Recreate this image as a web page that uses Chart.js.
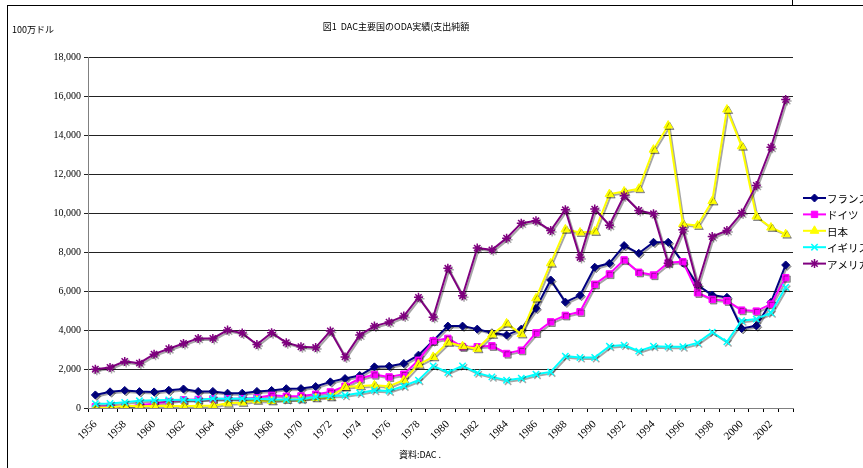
<!DOCTYPE html>
<html>
<head>
<meta charset="utf-8">
<script src="https://cdn.jsdelivr.net/npm/chart.js"></script>
<style>
  body { margin: 0; background: #fff; }
  #wrap { position: relative; width: 863px; height: 468px; }
</style>
</head>
<body>
<div id="wrap"><canvas id="odaChart" width="863" height="468"></canvas></div>
<script>
// years 1956 - 2003
const years = []
for (let y = 1956; y <= 2003; y++) years.push(String(y))

const france = [670, 830, 900, 840, 825, 910, 975, 850, 850, 760, 760, 850, 900, 990, 995, 1100,
    1340, 1510, 1665, 2110, 2145, 2280, 2710, 3445, 4200, 4200, 4045, 3855, 3740, 4045, 5110, 6565,
    5430, 5780, 7220, 7420, 8330, 7935, 8500, 8500, 7455, 6310, 5795, 5675, 4080, 4215, 5420, 7335]
const germany = [60, 90, 50, 150, 220, 330, 420, 440, 460, 480, 480, 520, 650, 600, 620, 705,
    825, 1115, 1510, 1715, 1595, 1735, 2450, 3445, 3570, 3140, 3140, 3190, 2795, 2965, 3855, 4420,
    4750, 4935, 6345, 6875, 7595, 6960, 6820, 7455, 7505, 5910, 5570, 5500, 5020, 4970, 5330, 6685]
const japan = [20, 20, 110, 90, 105, 110, 85, 115, 115, 240, 285, 390, 360, 440, 460, 515,
    565, 1080, 1130, 1165, 1115, 1425, 2230, 2620, 3360, 3170, 3035, 3770, 4340, 3790, 5625, 7420,
    9160, 9000, 9050, 10970, 11105, 11245, 13250, 14485, 9430, 9360, 10610, 15305, 13420, 9820, 9255, 8915]
const uk = [220, 230, 290, 370, 400, 410, 420, 415, 490, 480, 490, 480, 430, 430, 450, 560,
    610, 650, 770, 910, 875, 1130, 1425, 2160, 1820, 2160, 1800, 1595, 1425, 1530, 1735, 1850,
    2660, 2590, 2590, 3170, 3225, 2915, 3170, 3140, 3140, 3340, 3890, 3395, 4475, 4560, 4885, 6190]
const usa = [1990, 2080, 2390, 2300, 2760, 3040, 3310, 3570, 3570, 3995, 3840, 3260, 3860, 3350, 3140, 3100,
    3950, 2620, 3740, 4200, 4405, 4715, 5675, 4650, 7165, 5760, 8200, 8110, 8710, 9480, 9600, 9100,
    10165, 7720, 10200, 9375, 10885, 10130, 9960, 7420, 9135, 6310, 8790, 9100, 9995, 11415, 13370, 15820]

const yTicks = [0, 2000, 4000, 6000, 8000, 10000, 12000, 14000, 16000, 18000]

function series(label, data, color, style, radius, order) {
    return {
        label: label,
        data: data,
        borderColor: color,
        backgroundColor: color,
        borderWidth: 2,
        pointStyle: style,
        pointRadius: radius,
        pointBorderWidth: style == 'crossRot' || style == 'star' ? 1.5 : 1,
        pointBackgroundColor: color,
        pointBorderColor: color,
        tension: 0,
        order: order
    }
}

// excel style drop shadow under the lines
const shadowPlugin = {
    id: 'shadow',
    beforeDatasetsDraw(chart) {
        const ctx = chart.ctx
        ctx.save()
        ctx.shadowColor = 'rgba(0,0,0,0.35)'
        ctx.shadowOffsetX = 1.5
        ctx.shadowOffsetY = 1.5
        ctx.shadowBlur = 0
    },
    afterDatasetsDraw(chart) {
        chart.ctx.restore()
    }
}

// texts, frame and legend
const decoPlugin = {
    id: 'deco',
    afterDraw(chart) {
        const ctx = chart.ctx
        ctx.save()
        ctx.strokeStyle = '#000'
        ctx.lineWidth = 1
        ctx.beginPath()
        ctx.moveTo(7, 5.5); ctx.lineTo(863, 5.5)
        ctx.moveTo(7.5, 5); ctx.lineTo(7.5, 468)
        ctx.moveTo(792.5, 0); ctx.lineTo(792.5, 5)
        ctx.stroke()

        ctx.fillStyle = '#000'
        ctx.textBaseline = 'middle'
        ctx.font = '9px "Noto Sans CJK JP", sans-serif'
        ctx.textAlign = 'center'
        ctx.fillText('図1  DAC主要国のODA実績(支出純額', 396, 27)
        ctx.fillText('資料:DAC .', 420, 455)
        ctx.textAlign = 'left'
        ctx.fillText('100万ドル', 12, 30)

        // legend
        ctx.font = '10.5px "Noto Sans CJK JP", sans-serif'
        chart.data.datasets.forEach((ds, i) => {
            const y = 198 + i * 16.4
            ctx.strokeStyle = ds.borderColor
            ctx.lineWidth = 2
            ctx.beginPath()
            ctx.moveTo(803, y); ctx.lineTo(826, y)
            ctx.stroke()
            ctx.fillStyle = ds.backgroundColor
            ctx.lineWidth = ds.pointBorderWidth
            Chart.helpers.drawPoint(ctx, {
                pointStyle: ds.pointStyle, radius: ds.pointRadius, borderWidth: ds.pointBorderWidth, rotation: 0
            }, 814.5, y)
            ctx.fillStyle = '#000'
            ctx.fillText(ds.label, 827, y + 1)
        })
        ctx.restore()
    }
}

new Chart('odaChart', {
    type: 'line',
    data: {
        labels: years,
        datasets: [
            series('フランス', france, '#000080', 'rectRot', 4, 5),
            series('ドイツ', germany, '#FF00FF', 'rect', 4.5, 4),
            series('日本', japan, '#FFFF00', 'triangle', 5, 3),
            series('イギリス', uk, '#00FFFF', 'crossRot', 4.5, 2),
            series('アメリカ', usa, '#800080', 'star', 4.5, 1)
        ]
    },
    options: {
        responsive: false,
        animation: false,
        events: [],
        layout: { padding: { top: 57, right: 70, left: 0, bottom: 0 } },
        plugins: { legend: { display: false }, title: { display: false }, tooltip: { enabled: false } },
        scales: {
            x: {
                offset: true,
                afterFit: s => { s.height = 60 },
                grid: { offset: true, drawOnChartArea: false, tickLength: 4, color: '#000' },
                border: { color: '#808080', width: 1 },
                ticks: {
                    autoSkip: false,
                    maxRotation: 45,
                    minRotation: 45,
                    padding: 6,
                    color: '#000',
                    font: { family: '"Liberation Serif", serif', size: 11 },
                    callback: (v, i) => i % 2 == 0 ? years[i] : ''
                }
            },
            y: {
                min: 0,
                max: 18000,
                afterFit: s => { s.width = 88 },
                afterBuildTicks: s => { s.ticks = yTicks.map(v => ({ value: v })) },
                grid: { color: '#222', tickLength: 4, lineWidth: 1 },
                border: { color: '#808080', width: 1 },
                ticks: {
                    padding: 3,
                    color: '#000',
                    font: { family: '"Liberation Serif", serif', size: 10 },
                    callback: v => v.toLocaleString('en-US')
                }
            }
        }
    },
    plugins: [shadowPlugin, decoPlugin]
})
</script>
</body>
</html>
